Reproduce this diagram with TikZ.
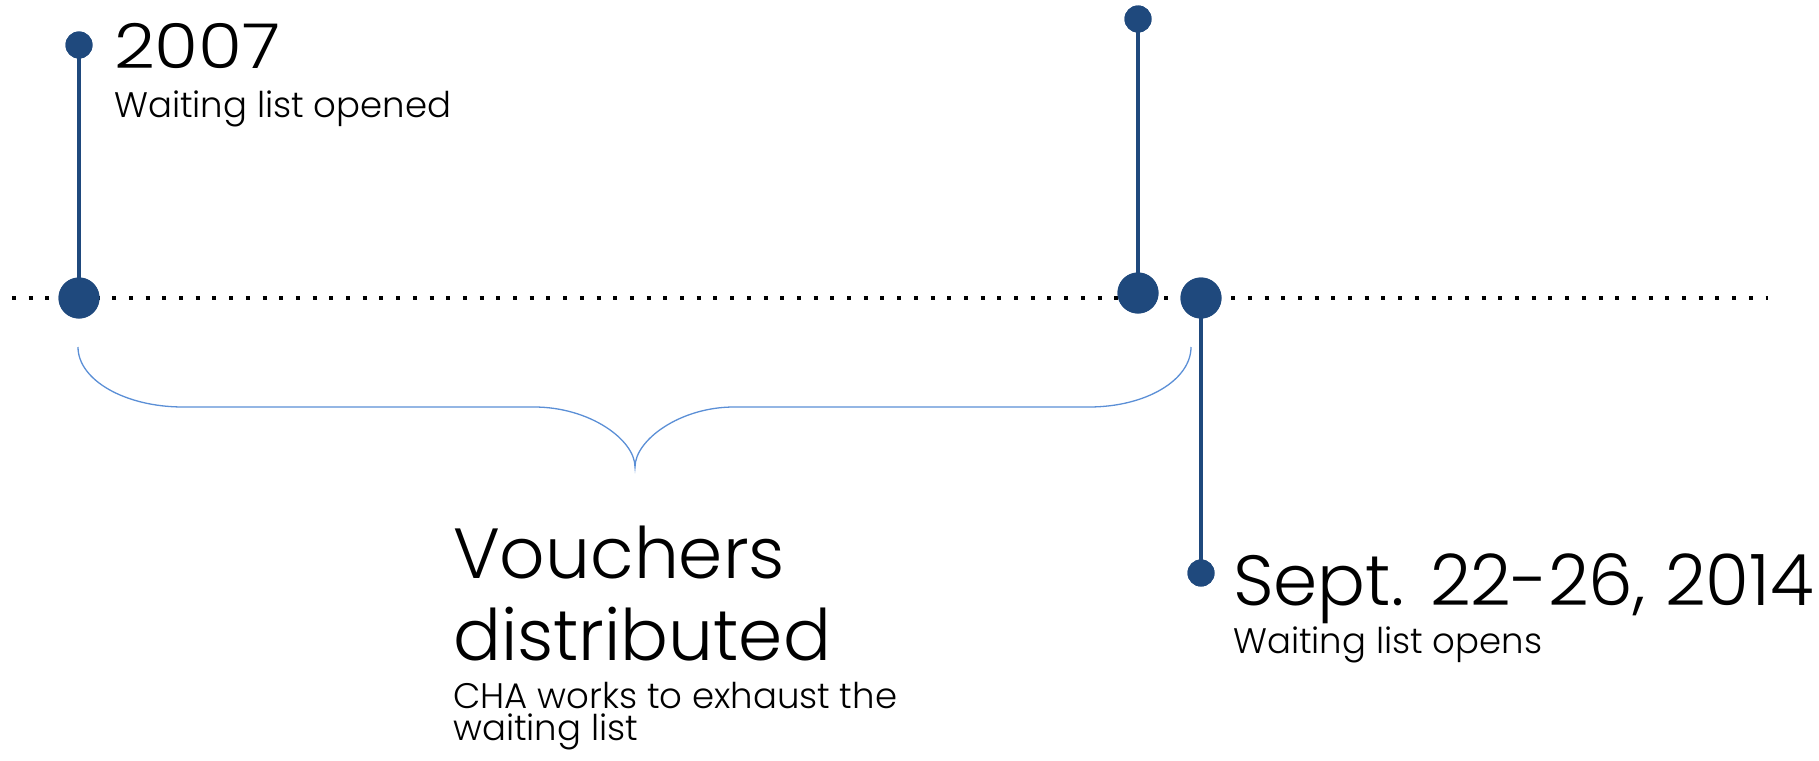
\documentclass[tikz,border=0pt]{standalone}
\usepackage{fontspec}
\setmainfont{Poppins Light}
\definecolor{navy}{HTML}{1F497D}
\definecolor{bracecol}{HTML}{5B8FD6}
\tikzset{
  bigdot/.style={circle,fill=navy,inner sep=0pt,minimum size=41pt},
  smalldot/.style={circle,fill=navy,inner sep=0pt,minimum size=27pt},
  stem/.style={navy,line width=4.2pt},
  axisline/.style={black,line width=4pt,dash pattern=on 4pt off 12.7pt},
  bracestyle/.style={bracecol,line width=1.3pt},
  bigtitle/.style={anchor=base west,inner sep=0pt,font=\fontsize{71}{82}\selectfont},
  yeartitle/.style={anchor=base west,inner sep=0pt,font=\fontsize{62}{70}\selectfont},
  subtext/.style={anchor=base west,inner sep=0pt,font=\fontsize{35.5}{36}\selectfont},
}
\begin{document}
\begin{tikzpicture}[x=1pt,y=-1pt]
\useasboundingbox (0,0) rectangle (1819,760);
% axis
\coordinate (axL) at (12,298);
\coordinate (axR) at (1768,298);
\draw[axisline] (axL) -- (axR);
% dots
\node[smalldot] (a0) at (79,45) {};
\node[bigdot] (a1) at (79,298) {};
\node[smalldot] (b0) at (1138,19) {};
\node[bigdot] (b1) at (1138,293) {};
\node[bigdot] (c1) at (1201,298) {};
\node[smalldot] (c0) at (1201,573) {};
\draw[stem] (a0.center) -- (a1.center);
\draw[stem] (b0.center) -- (b1.center);
\draw[stem] (c1.center) -- (c0.center);
\node[smalldot] at (a0) {};
\node[bigdot] at (a1) {};
\node[smalldot] at (b0) {};
\node[bigdot] at (b1) {};
\node[bigdot] at (c1) {};
\node[smalldot] at (c0) {};
% brace
\coordinate (brL) at (78,347);
\coordinate (brR) at (1191,347);
\coordinate (brT) at (635,467);
\draw[bracestyle] (brL) .. controls (78,380) and (125,407) .. (183,407)
  -- (534,407) .. controls (590,407) and (635,440) .. (brT)
  .. controls (635,440) and (680,407) .. (734,407)
  -- (1089,407) .. controls (1146,407) and (1191,380) .. (brR);
% texts
\node[yeartitle] (t2007) at (114,68) {\scalebox{1.15}[1]{2007}};
\node[subtext] (s2007) at (114,117) {Waiting list opened};
\node[bigtitle] (tv1) at (453,578) {Vouchers};
\node[bigtitle] (tv2) at (453,660) {distributed};
\node[subtext] (sv1) at (453,708) {CHA works to exhaust the};
\node[subtext] (sv2) at (453,740) {waiting list};
\node[bigtitle] (t2014) at (1233,605) {Sept. 22-26, 2014};
\node[subtext] (s2014) at (1233,653) {Waiting list opens};
\end{tikzpicture}
\end{document}
